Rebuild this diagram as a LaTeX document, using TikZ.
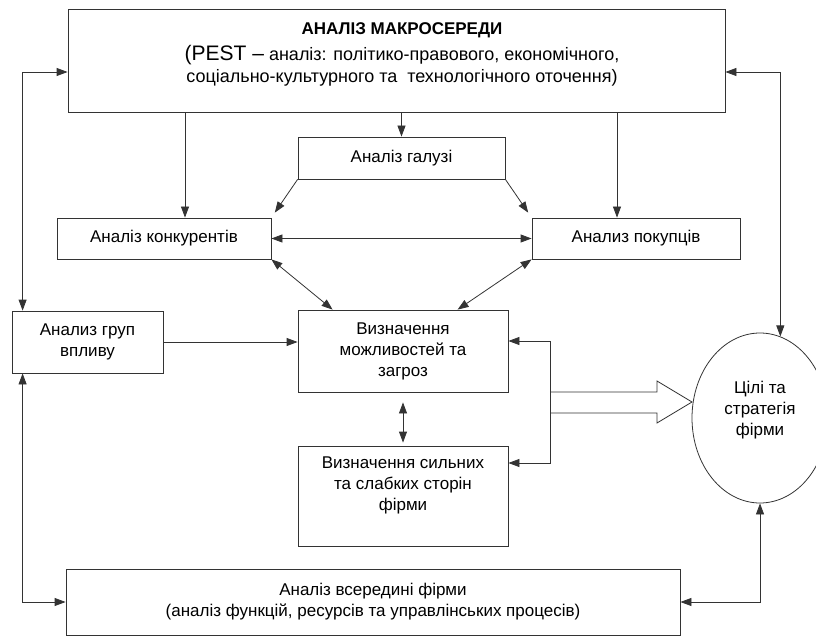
\documentclass[tikz,border=0pt]{standalone}
\usepackage{fontspec}
\setmainfont{Liberation Sans}
\usetikzlibrary{positioning,arrows.meta,shapes.geometric}
\tikzstyle{bx}=[draw,rectangle,inner sep=0pt]
\tikzstyle{ar}=[-{Triangle[length=11pt,width=8pt]}]
\tikzstyle{twoway}=[{Triangle[length=11pt,width=8pt]}-{Triangle[length=11pt,width=8pt]}]
\begin{document}
\begin{tikzpicture}[x=1pt,y=-1pt,black!80,line width=0.8pt,
  every node/.style={text=black,align=center,inner sep=1pt,font=\fontsize{17}{21}\selectfont},
  every edge/.style={draw,ar}]
\useasboundingbox (0,0) rectangle (816,636);
\node[bx,minimum width=657,minimum height=103](macro)at(396.5,60.5){};
\node(macrot)at(402,54){\textbf{АНАЛІЗ МАКРОСЕРЕДИ}\\[5pt]{\fontsize{21}{24}\selectfont(PEST --}{\fontsize{18}{22}\selectfont\ аналіз: політико-правового, економічного,}\\[1pt]{\fontsize{18}{22}\selectfont соціально-культурного та\ \ технологічного оточення)}};
\node[bx,minimum width=207,minimum height=42](galuz)at(401.5,158){Аналіз галузі};
\node[bx,minimum width=214,minimum height=41](konk)at(164,238.5){Аналіз конкурентів};
\node[bx,minimum width=208,minimum height=41](pokup)at(636,238.5){Анализ покупців};
\node[bx,minimum width=151,minimum height=62](grup)at(87.5,342){Анализ груп\\впливу};
\node[bx,minimum width=210,minimum height=82](mozh)at(403,351){Визначення\\можливостей та\\загроз};
\node[bx,minimum width=210,minimum height=100](syl)at(403,496){};
\node(sylt)at(403,485){Визначення сильних\\та слабких сторін\\фірми};
\node[bx,minimum width=614,minimum height=66](vnutr)at(373,602){Аналіз всередині фірми\\(аналіз функцій, ресурсів та управлінських процесів)};
\node[draw,ellipse,minimum width=136,minimum height=170,inner sep=0pt](cil)at(760,418){};
\node(cilt)at(760,410){Цілі та\\стратегія\\фірми};
\coordinate(k)at([xshift=21pt]konk.north);
\coordinate(p)at([xshift=-19pt]pokup.north);
\draw
  (macro.south-|k)edge(k)
  (macro.south-|galuz.north)edge(galuz.north)
  (macro.south-|p)edge(p)
  (galuz.south west)edge[shorten >=6pt](konk.north east)
  (galuz.south east)edge[shorten >=6pt](pokup.north west)
  (konk.east)edge[twoway](pokup.west)
  (konk.south east)edge[twoway]([xshift=35pt]mozh.north west)
  (pokup.south west)edge[twoway]([xshift=160pt]mozh.north west)
  (grup.east)edge(grup.east-|mozh.west)
  (mozh.south)edge[twoway,shorten <=10pt,shorten >=3pt](syl.north);
\draw[twoway]([yshift=10pt]mozh.east)--++(42,0)|-([yshift=33pt]syl.east);
\draw[twoway]([xshift=11pt]grup.north west)|-([yshift=-11.5pt]macro.west);
\draw[twoway]([xshift=11pt]grup.south west)|-(vnutr.west);
\draw[twoway]([yshift=-11.5pt]macro.east)-|(cil.76);
\draw[twoway](vnutr.east)-|(cil.south);
\draw(550,392)--(657,392)--(657,381)--(692,402)--(657,423)--(657,413)--(550,413);
\end{tikzpicture}
\end{document}
